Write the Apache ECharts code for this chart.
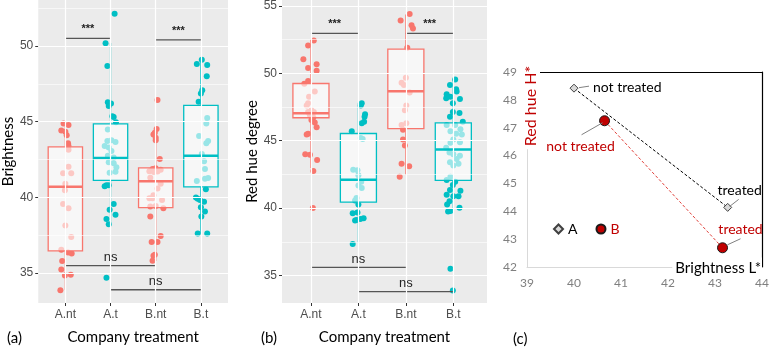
<!DOCTYPE html>
<html>
<head>
<meta charset="utf-8">
<script src="https://cdn.jsdelivr.net/npm/echarts@6/dist/echarts.min.js"></script>
<style>
  html, body { margin: 0; padding: 0; background: #fff; }
  #chart { width: 774px; height: 350px; }
</style>
</head>
<body>
<div id="chart"></div>
<script>
// groups on the x axis of panels (a) and (b)
const groups = ["A.nt", "A.t", "B.nt", "B.t"];
const groupColors = ["#F8766D", "#00BFC4", "#F8766D", "#00BFC4"];

// (a) brightness: box stats [lower whisker, q1, median, q3, upper whisker]
const brightBoxes = [
  [33.9, 36.47, 40.7, 43.34, 44.9],
  [38.1, 41.13, 42.6, 44.85, 50.2],
  [35.8, 39.33, 41.06, 41.95, 44.5],
  [37.6, 40.7, 42.75, 46.07, 49.1]
];
// (a) jittered points [jitter, brightness]
const brightAnt = [[-0.04,44.87],[0.07,44.78],[-0.09,44.42],[0,44.33],[0.03,44.1],[0.06,43.57],[0.07,43.4],[0.07,43.14],[0.07,42.03],[-0.05,41.6],[0.13,41.6],[0,40.9],[-0.01,40.48],[-0.05,39.57],[0.07,39.29],[0,38.14],[0.13,37.38],[-0.09,36.54],[0.06,36.36],[0.14,36.3],[-0.07,35.8],[-0.09,35.24],[-0.01,34.85],[0.12,34.9],[-0.11,33.87]];
const brightAt = [[0.09,52.12],[-0.11,50.17],[-0.07,48.68],[-0.06,46.28],[0.01,46.2],[-0.04,46.04],[0.04,45.35],[0.07,45.3],[0.12,44.96],[-0.06,44.48],[0.02,43.77],[-0.07,43.72],[0.11,43.66],[-0.13,43.4],[-0.04,43.29],[0.02,43.07],[-0.06,42.75],[0.07,42.64],[-0.04,42.32],[0.07,42.25],[0.11,41.7],[-0.02,41.62],[0.13,41.99],[-0.09,40.8],[-0.13,40.74],[-0.04,40.8],[0.07,39.57],[-0.02,39.18],[0.11,38.85],[-0.09,38.57],[-0.04,38.23],[-0.09,34.7]];
const brightBnt = [[0.04,46.43],[0.02,44.52],[-0.02,44.26],[-0.05,44.16],[0,43.94],[0,43.77],[0.09,42.53],[-0.07,41.88],[0,41.93],[0.11,41.82],[-0.14,41.73],[-0.04,41.67],[0.04,41.71],[-0.12,41.3],[0.11,40.9],[0.04,40.58],[-0.05,40.15],[-0.14,39.94],[-0.07,39.94],[0.14,39.83],[0,39.44],[-0.12,39.4],[0.17,39.29],[-0.12,38.74],[0.11,37.45],[0.04,37.06],[-0.09,37.06],[-0.02,36.21],[-0.05,36.15],[-0.07,35.82]];
const brightBt = [[0.02,49.09],[-0.09,48.81],[0.14,48.74],[0.13,48.0],[0.03,47.08],[0,46.86],[-0.05,46.32],[0.14,45.24],[0.12,44.87],[-0.04,44.05],[0.16,43.72],[0.12,43.57],[0.02,42.86],[0.07,42.38],[0.09,41.88],[0.16,41.28],[0.09,41.23],[-0.09,41.08],[0.11,40.54],[-0.11,40.0],[-0.07,39.91],[-0.02,39.83],[0.07,39.72],[0,39.35],[0.09,39.07],[0.01,38.74],[-0.07,37.62],[0.14,37.62]];
// (a) significance bars [from group, to group, height]
const brightSig = [[1, 2, 50.5], [3, 4, 50.4], [1, 3, 35.5], [2, 4, 33.9]];
const brightTicks = [35, 40, 45, 50];

// (b) red hue degree
const hueBoxes = [
  [42.96, 46.7, 47.04, 49.24, 52.51],
  [37.45, 40.44, 42.1, 45.53, 47.81],
  [42.48, 45.89, 48.67, 51.79, 54.35],
  [39.84, 42.05, 44.35, 46.32, 49.56]
];
const hueAnt = [[0.06,52.42],[-0.06,52.06],[-0.16,51.03],[-0.06,50.38],[0.12,50.19],[0.12,50.67],[-0.14,49.22],[-0.06,49.42],[0.08,48.65],[-0.04,48.26],[-0.06,47.78],[-0.09,47.61],[0.01,47.25],[-0.06,47.13],[0.06,47.13],[-0.02,46.89],[0.05,46.72],[0.01,46.53],[0.08,46.34],[0.12,46.0],[-0.06,45.52],[-0.09,45.45],[-0.12,44.0],[-0.02,43.95],[0.13,43.57],[0.05,42.75],[0.04,40.0]];
const hueAt = [[0.07,47.78],[0.05,47.61],[0.14,46.96],[0.13,46.77],[0.12,46.41],[0.07,46.29],[-0.14,45.69],[0.05,45.2],[0.09,45.13],[-0.11,42.85],[-0.02,42.8],[0,42.44],[0.06,41.96],[0,41.67],[0.07,41.48],[-0.04,40.75],[-0.07,40.56],[0,40.27],[-0.02,39.67],[-0.12,39.62],[0.04,39.19],[-0.04,39.12],[0.11,39.24],[-0.07,39.07],[-0.12,37.33]];
const hueBnt = [[0.08,54.4],[-0.11,53.92],[0.12,53.56],[0.15,53.32],[0.03,51.9],[0,49.66],[-0.09,49.3],[-0.04,49.13],[0.08,48.57],[0.01,47.61],[-0.02,47.25],[0.01,46.29],[-0.09,46.17],[-0.06,45.81],[-0.06,45.08],[-0.02,44.65],[-0.09,43.28],[0.07,43.11],[-0.13,42.32]];
const hueBt = [[0.04,49.54],[-0.07,49.13],[0.06,48.81],[-0.14,48.45],[-0.06,48.26],[-0.15,48.14],[-0.01,47.78],[0.14,48.09],[0.07,48.65],[-0.01,47.13],[0.13,47.06],[-0.07,46.77],[0.2,46.41],[-0.14,46.17],[0.04,46.17],[0.15,45.85],[-0.06,45.69],[0.06,45.52],[0.18,45.45],[0,45.08],[-0.06,44.84],[0.14,44.89],[-0.15,44.48],[-0.08,44.12],[0,44.0],[0.07,43.64],[-0.07,43.4],[0.14,43.88],[0,43.16],[0.11,43.28],[-0.06,42.32],[-0.14,42.08],[0.04,41.96],[-0.01,41.72],[-0.07,41.35],[0.15,41.28],[-0.14,40.99],[0,40.87],[0.11,40.87],[-0.08,40.51],[-0.13,40.27],[0.13,40.03],[-0.06,39.79],[-0.11,39.74],[-0.06,35.5],[-0.01,33.89]];
const hueSig = [[1, 2, 52.96], [3, 4, 52.96], [1, 3, 35.6], [2, 4, 33.8]];
const hueTicks = [35, 40, 45, 50, 55];
const sigLabels = ["***", "***", "ns", "ns"];

// (c) group means: brightness L* and red hue H*, [not treated, treated]
const meanLA = [40.0, 43.27];
const meanHA = [48.42, 44.14];
const meanLB = [40.65, 43.16];
const meanHB = [47.25, 42.69];
const calloutText = ["not treated", "not treated", "treated", "treated"];

const tickFont = "Liberation Sans";
const titleFont = "Lato";

function boxItem(colorList) {
  return function (params, api) {
    const x = api.value(0);
    const half = 0.38;
    const color = colorList[params.dataIndex];
    const lo = api.coord([x, api.value(1)]);
    const q1 = api.coord([x, api.value(2)]);
    const q3 = api.coord([x, api.value(4)]);
    const hi = api.coord([x, api.value(5)]);
    const tl = api.coord([x - half, api.value(4)]);
    const br = api.coord([x + half, api.value(2)]);
    const ml = api.coord([x - half, api.value(3)]);
    const mr = api.coord([x + half, api.value(3)]);
    const st = { stroke: color, lineWidth: 1.3, fill: null };
    return {
      type: "group",
      children: [
        { type: "line", shape: { x1: hi[0], y1: hi[1], x2: q3[0], y2: q3[1] }, style: st },
        { type: "line", shape: { x1: lo[0], y1: lo[1], x2: q1[0], y2: q1[1] }, style: st },
        { type: "rect", shape: { x: tl[0], y: tl[1], width: br[0] - tl[0], height: br[1] - tl[1] },
          style: { fill: "rgba(255,255,255,0.6)", stroke: color, lineWidth: 1.3 } },
        { type: "line", shape: { x1: ml[0], y1: ml[1], x2: mr[0], y2: mr[1] }, style: { stroke: color, lineWidth: 2.5 } }
      ]
    };
  };
}

function sigItem(params, api) {
  const a = api.coord([api.value(0), api.value(2)]);
  const b = api.coord([api.value(1), api.value(2)]);
  const lab = sigLabels[params.dataIndex];
  return {
    type: "group",
    children: [
      { type: "line", shape: { x1: a[0], y1: a[1], x2: b[0], y2: b[1] }, style: { stroke: "#555", lineWidth: 1.4 } },
      { type: "text", x: (a[0] + b[0]) / 2, y: a[1] - (lab === "ns" ? 8 : 9),
        style: { text: lab, fill: "#222", font: (lab === "ns" ? "13px " : "bold 11px ") + tickFont, align: "center", verticalAlign: "middle" } }
    ]
  };
}

// offsets of leader lines and labels in panel (c), pixels
const calloutLayout = [
  { line: [5, -0.5, 15, -2], text: [19, -1], align: "left", color: "#000" },
  { line: [-2, 2, -23, 14], text: [-24, 26], align: "center", color: "#C00000" },
  { line: [2, -1, 11, -8], text: [12, -17], align: "center", color: "#000" },
  { line: [5, -3, 18, -9], text: [18, -18], align: "center", color: "#C00000" }
];
function calloutItem(params, api) {
  const p = api.coord([api.value(0), api.value(1)]);
  const c = calloutLayout[params.dataIndex];
  return {
    type: "group",
    children: [
      { type: "line", shape: { x1: p[0] + c.line[0], y1: p[1] + c.line[1], x2: p[0] + c.line[2], y2: p[1] + c.line[3] },
        style: { stroke: "#808080", lineWidth: 1 } },
      { type: "text", x: p[0] + c.text[0], y: p[1] + c.text[1],
        style: { text: calloutText[params.dataIndex], fill: c.color, font: "14px " + titleFont, align: c.align, verticalAlign: "middle" } }
    ]
  };
}

function gridLines(ticks, axisIdx) {
  const lines = [];
  ticks.forEach(t => lines.push({ yAxis: t, lineStyle: { color: "#fff", width: 1.2, type: "solid" } }));
  ticks.forEach(t => lines.push({ yAxis: t - 2.5, lineStyle: { color: "#fff", width: 0.6, type: "solid" } }));
  lines.push({ yAxis: ticks[ticks.length - 1] + 2.5, lineStyle: { color: "#fff", width: 0.6, type: "solid" } });
  groups.forEach((g, i) => lines.push({ xAxis: i + 1, lineStyle: { color: "#fff", width: 1.2, type: "solid" } }));
  return {
    type: "line", xAxisIndex: axisIdx, yAxisIndex: axisIdx, data: [], z: 1, silent: true,
    markLine: { silent: true, symbol: "none", label: { show: false }, animation: false, data: lines }
  };
}

function scatterSeries(pointSets, axisIdx) {
  return pointSets.map((pts, i) => ({
    type: "scatter", xAxisIndex: axisIdx, yAxisIndex: axisIdx, z: 2, symbolSize: 6,
    itemStyle: { color: groupColors[i], opacity: 1 },
    data: pts.map(p => [i + 1 + p[0], p[1]])
  }));
}

function catAxis(gridIdx, min, max, name) {
  return {
    type: "value", gridIndex: gridIdx, min: min, max: max,
    axisLine: { show: false }, splitLine: { show: false },
    axisTick: { show: true, customValues: [1, 2, 3, 4], length: 3, lineStyle: { color: "#333" } },
    axisLabel: { customValues: [1, 2, 3, 4], formatter: v => groups[Math.round(v) - 1], color: "#4D4D4D", fontSize: 12, fontFamily: tickFont, margin: 6 },
    name: name, nameLocation: "middle", nameGap: 27,
    nameTextStyle: { fontFamily: titleFont, fontSize: 15, color: "#000" }
  };
}
function valAxis(gridIdx, min, max, ticks, name) {
  return {
    type: "value", gridIndex: gridIdx, min: min, max: max,
    axisLine: { show: false }, splitLine: { show: false },
    axisTick: { show: true, customValues: ticks, length: 3, lineStyle: { color: "#333" } },
    axisLabel: { customValues: ticks, color: "#4D4D4D", fontSize: 12, fontFamily: tickFont, margin: 5 },
    name: name, nameLocation: "middle", nameGap: 22,
    nameTextStyle: { fontFamily: titleFont, fontSize: 15, color: "#000" }
  };
}

const chart = echarts.init(document.getElementById("chart"));
const option = {
  animation: false,
  grid: [
    { left: 35, top: 0, width: 193, height: 309, show: true, backgroundColor: "#EBEBEB", borderWidth: 0 },
    { left: 282, top: 0, width: 205, height: 312, show: true, backgroundColor: "#EBEBEB", borderWidth: 0 },
    { left: 527, top: 72, width: 235, height: 195 }
  ],
  xAxis: [
    catAxis(0, 0.4, 4.6, "Company treatment"),
    catAxis(1, 0.39, 4.71, "Company treatment"),
    { type: "value", gridIndex: 2, min: 39, max: 44, interval: 1,
      axisLine: { lineStyle: { color: "#D9D9D9", width: 1 } }, axisTick: { show: false }, splitLine: { show: false },
      axisLabel: { color: "#7F7F7F", fontSize: 12, fontFamily: titleFont, margin: 10 } },
    { type: "value", gridIndex: 2, min: 39, max: 44, position: "top",
      axisLine: { lineStyle: { color: "#000", width: 1.2 } }, axisTick: { show: false }, axisLabel: { show: false }, splitLine: { show: false } }
  ],
  yAxis: [
    valAxis(0, 33.03, 53.03, brightTicks, "Brightness"),
    valAxis(1, 32.96, 55.43, hueTicks, "Red hue degree"),
    { type: "value", gridIndex: 2, min: 42, max: 49, interval: 1,
      axisLine: { show: true, lineStyle: { color: "#D9D9D9", width: 1 } }, axisTick: { show: false }, splitLine: { show: false },
      axisLabel: { color: "#7F7F7F", fontSize: 12, fontFamily: titleFont, margin: 10 } },
    { type: "value", gridIndex: 2, min: 42, max: 49, position: "right",
      axisLine: { show: true, lineStyle: { color: "#000", width: 1.2 } }, axisTick: { show: false }, axisLabel: { show: false }, splitLine: { show: false } }
  ],
  legend: {
    left: 553, top: 222, itemWidth: 9, itemHeight: 9, itemGap: 18, padding: 0,
    textStyle: { fontFamily: titleFont, fontSize: 14, color: "#000" },
    data: [
      { name: "A", icon: "diamond", textStyle: { color: "#000" } },
      { name: "B", icon: "circle", textStyle: { color: "#C00000" } }
    ]
  },
  series: [
    gridLines(brightTicks, 0),
    ...scatterSeries([brightAnt, brightAt, brightBnt, brightBt], 0),
    { type: "custom", xAxisIndex: 0, yAxisIndex: 0, z: 3, renderItem: boxItem(groupColors),
      data: brightBoxes.map((b, i) => [i + 1, ...b]) },
    { type: "custom", xAxisIndex: 0, yAxisIndex: 0, z: 4, renderItem: sigItem, data: brightSig },

    gridLines(hueTicks, 1),
    ...scatterSeries([hueAnt, hueAt, hueBnt, hueBt], 1),
    { type: "custom", xAxisIndex: 1, yAxisIndex: 1, z: 3, renderItem: boxItem(groupColors),
      data: hueBoxes.map((b, i) => [i + 1, ...b]) },
    { type: "custom", xAxisIndex: 1, yAxisIndex: 1, z: 4, renderItem: sigItem, data: hueSig },

    { name: "A", type: "line", xAxisIndex: 2, yAxisIndex: 2, z: 5,
      symbol: "diamond", symbolSize: 8,
      itemStyle: { color: "#D9D9D9", borderColor: "#404040", borderWidth: 1 },
      lineStyle: { color: "#000", width: 1, type: [3, 2] },
      data: meanLA.map((l, i) => [l, meanHA[i]]) },
    { name: "B", type: "line", xAxisIndex: 2, yAxisIndex: 2, z: 5,
      symbol: "circle", symbolSize: 10,
      itemStyle: { color: "#C00000", borderColor: "#1A1A1A", borderWidth: 1 },
      lineStyle: { color: "#E0403A", width: 1, type: [3, 2] },
      data: meanLB.map((l, i) => [l, meanHB[i]]) },
    { type: "custom", xAxisIndex: 2, yAxisIndex: 2, z: 6, renderItem: calloutItem,
      data: [[meanLA[0], meanHA[0]], [meanLB[0], meanHB[0]], [meanLA[1], meanHA[1]], [meanLB[1], meanHB[1]]] }
  ],
  graphic: [
    { type: "text", left: 7, top: 331, z: 100, style: { text: "(a)", font: "15px " + titleFont, fill: "#000" } },
    { type: "text", left: 261, top: 331, z: 100, style: { text: "(b)", font: "15px " + titleFont, fill: "#000" } },
    { type: "text", left: 513, top: 332, z: 100, style: { text: "(c)", font: "15px " + titleFont, fill: "#000" } },
    { type: "text", x: 531, y: 106, rotation: Math.PI / 2, z: 100,
      style: { text: "Red hue H*", font: "16px " + titleFont, fill: "#C00000", align: "center", verticalAlign: "middle",
               backgroundColor: "#fff", padding: [1, 3] } },
    { type: "text", x: 762, y: 268, z: 100,
      style: { text: "Brightness L*", font: "15px " + titleFont, fill: "#000", align: "right", verticalAlign: "middle",
               backgroundColor: "#fff", padding: [3, 1, 3, 3] } }
  ]
};
chart.setOption(option);
</script>
</body>
</html>
